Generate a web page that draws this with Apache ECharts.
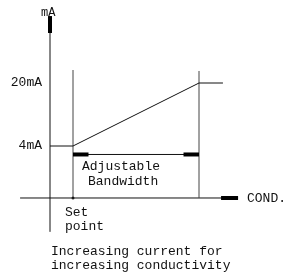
<!DOCTYPE html>
<html><head><meta charset="utf-8">
<script src="https://cdn.jsdelivr.net/npm/echarts@6/dist/echarts.min.js"></script>
<style>html,body{margin:0;padding:0;background:#fff}#c{width:285px;height:273px}</style>
</head><body><div id="c"></div>
<script>
// x: conductivity in % of the adjustable bandwidth (0 = set point), y: output current (mA)
const currentTicks = [4, 20];
const responseCond = [-18.25, 0, 100, 119];
const responseMA = [4, 4, 20, 20];
const setPointCond = 0;
const bandEndCond = 100;
const originCond = -18.25;
const originMA = -9.2;
const condAxisSpan = [-42, 131];
const mAAxisSpan = [-17.8, 37];
const condArrowStart = 117.5;
const mAArrowStart = 32.7;
const guideTopSet = 23.3;
const guideTopEnd = 23.05;
const bandLineMA = 1.85;
const bandMarkerLen = 12.3;
// visible window of the sketch
const condView = [-57.94, 168.25];
const mAView = [-28.25, 41.08];

const FONT = 'Liberation Mono, DejaVu Sans Mono, monospace';
const chart = echarts.init(document.getElementById('c'), null, {renderer: 'canvas'});

function seg(xs, ys, width, color) {
  return {
    type: 'line', data: xs.map((x, i) => [x, ys[i]]), symbol: 'none', clip: false,
    silent: true, lineStyle: {width: width, color: color}, z: width > 2 ? 3 : 2
  };
}

const series = [
  // main axes
  seg([originCond, originCond], mAAxisSpan, 1, '#111'),
  seg(condAxisSpan, [originMA, originMA], 1, '#111'),
  seg([originCond, originCond], [mAArrowStart, mAAxisSpan[1]], 4, '#000'),
  seg([condArrowStart, condAxisSpan[1]], [originMA, originMA], 4, '#000'),
  // guides at set point and end of bandwidth
  seg([setPointCond, setPointCond], [originMA, guideTopSet], 1, '#444'),
  seg([bandEndCond, bandEndCond], [originMA, guideTopEnd], 1, '#444'),
  // response curve
  seg(responseCond, responseMA, 1, '#111'),
  // adjustable bandwidth marker
  seg([setPointCond, bandEndCond], [bandLineMA, bandLineMA], 1, '#111'),
  seg([setPointCond, setPointCond + bandMarkerLen], [bandLineMA, bandLineMA], 4, '#000'),
  seg([bandEndCond - bandMarkerLen, bandEndCond], [bandLineMA, bandLineMA], 4, '#000'),
  {type: 'scatter', data: [[setPointCond, originMA]], symbolSize: 3, itemStyle: {color: '#000'}, silent: true, clip: false}
];

const txt = (x, y, text, size) => ({
  type: 'text', x: x, y: y, silent: true,
  style: {text: text, font: (size || 13) + 'px ' + FONT, fill: '#111', align: 'left', verticalAlign: 'middle'}
});

chart.setOption({
  animation: false,
  grid: {left: 0, top: 0, right: 0, bottom: 0},
  xAxis: {type: 'value', min: condView[0], max: condView[1], show: false},
  yAxis: {
    type: 'value', min: mAView[0], max: mAView[1],
    axisLine: {show: false}, axisTick: {show: false}, splitLine: {show: false},
    axisLabel: {customValues: currentTicks, formatter: '{value}mA', inside: true, margin: 42, align: 'right',
      fontFamily: FONT, fontSize: 13, color: '#111'}
  },
  series: series,
  graphic: [
    txt(41, 12.5, 'mA', 12),
    txt(82, 167, 'Adjustable'),
    txt(88, 182, 'Bandwidth'),
    txt(65, 213, 'Set'),
    txt(65, 227, 'point'),
    txt(51, 252, 'Increasing current for'),
    txt(51, 265.5, 'increasing conductivity'),
    txt(247, 198.5, 'COND.')
  ]
});
</script></body></html>
